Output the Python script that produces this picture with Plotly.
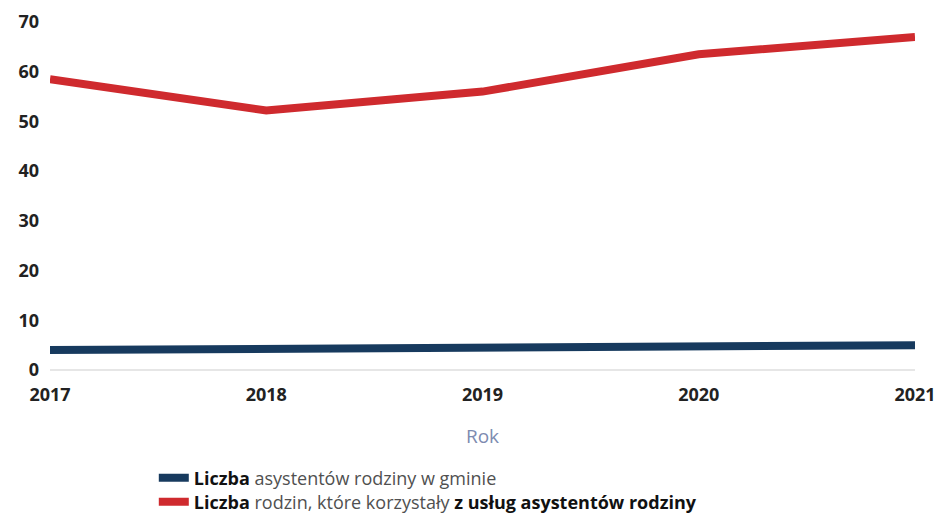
import plotly.graph_objects as go

years = [2017, 2018, 2019, 2020, 2021]
asystenci = [4.0, 4.3, 4.5, 4.8, 5.0]
rodziny = [58.5, 52.2, 56.0, 63.5, 67.0]
names = [
    "<b>Liczba</b> <span style='color:#505050'>asystentów rodziny w gminie</span>",
    "<b>Liczba</b> <span style='color:#505050'>rodzin, które korzystały</span> <b>z usług asystentów rodziny</b>",
]
y_ticks = [0, 10, 20, 30, 40, 50, 60, 70]

fig = go.Figure()
fig.add_trace(go.Scatter(x=years, y=asystenci, mode="lines", name=names[0],
                         legend="legend", showlegend=True,
                         line=dict(color="#173a5e", width=8)))
fig.add_trace(go.Scatter(x=years, y=rodziny, mode="lines", name=names[1],
                         legend="legend2", showlegend=True,
                         line=dict(color="#cf2a2e", width=8)))

leg_common = dict(xanchor="left", yanchor="middle", font=dict(size=18, color="#111"),
                  itemwidth=30, bgcolor="rgba(0,0,0,0)", visible=True,
                  borderwidth=0)
fig.update_layout(
    width=937, height=515,
    showlegend=True,
    margin=dict(l=50, r=22, t=22, b=145, autoexpand=False),
    paper_bgcolor="white", plot_bgcolor="white",
    font=dict(family="Open Sans", color="#222"),
    legend=dict(x=0.12, y=-0.3103, **leg_common),
    legend2=dict(x=0.12, y=-0.3793, **leg_common),
    xaxis=dict(tickvals=years, ticktext=[str(y) for y in years],
               range=[2017, 2021], showgrid=False, zeroline=False,
               showline=False, ticks="", automargin=False,
               ticklabelstandoff=12,
               tickfont=dict(size=18, weight=700, color="#222"),
               title=dict(text="Rok", font=dict(size=19, color="#7d8bb0"), standoff=24)),
    yaxis=dict(range=[0, 70], tickvals=y_ticks, showgrid=False,
               zeroline=True, zerolinecolor="#e6e6e6", zerolinewidth=2,
               showline=False, ticks="", automargin=False,
               ticklabelstandoff=10,
               tickfont=dict(size=18, weight=700, color="#222")),
)
fig.write_html("out.html", config={"displayModeBar": False},
               post_script="document.body.style.margin='0';document.body.style.overflow='hidden';")
